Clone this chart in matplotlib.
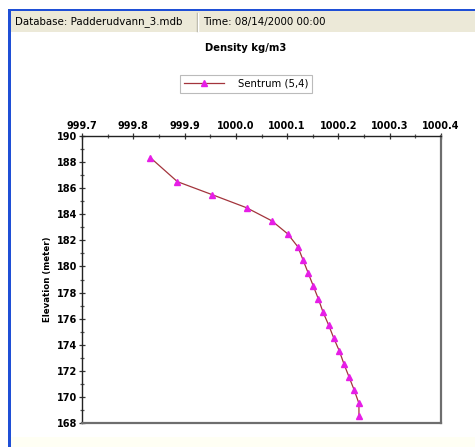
import numpy as np
import matplotlib
matplotlib.use("Agg")
import matplotlib.pyplot as plt
from matplotlib.patches import Rectangle
from matplotlib.ticker import MultipleLocator, FormatStrFormatter

W, H = 475, 447

density = [999.833, 999.886, 999.954, 1000.021, 1000.070, 1000.101, 1000.121,
           1000.131, 1000.141, 1000.151, 1000.161, 1000.170, 1000.181, 1000.191,
           1000.202, 1000.211, 1000.221, 1000.231, 1000.240, 1000.240]
elevation = [188.35, 186.5, 185.5, 184.5, 183.5, 182.5, 181.5, 180.5, 179.5,
             178.5, 177.5, 176.5, 175.5, 174.5, 173.5, 172.5, 171.5, 170.5,
             169.5, 168.5]

series_name = "Sentrum (5,4)"
db_text = "Database: Padderudvann_3.mdb"
time_text = "Time: 08/14/2000 00:00"


def fx(px):
    return px / W


def fy(py):
    return 1 - py / H


fig = plt.figure(figsize=(W / 100, H / 100), dpi=100)
fig.patch.set_facecolor("white")

# window frame and status bar
blue = "#1f4fd6"
fig.add_artist(Rectangle((fx(8), 0), fx(3), fy(9), transform=fig.transFigure,
                         color=blue, lw=0))
fig.add_artist(Rectangle((fx(8), fy(11)), 1, 2 / H, transform=fig.transFigure,
                         color=blue, lw=0))
fig.add_artist(Rectangle((fx(11), fy(32)), 1, (32 - 11) / H, transform=fig.transFigure,
                         color="#ece9d8", lw=0))
fig.add_artist(Rectangle((fx(11), 0), 1, 10 / H, transform=fig.transFigure,
                         color="#fffff4", lw=0))
fig.add_artist(plt.Line2D([fx(197), fx(197)], [fy(13), fy(31)],
                          transform=fig.transFigure, color="#b0ae9f", lw=1))
fig.add_artist(plt.Line2D([fx(198), fx(198)], [fy(13), fy(31)],
                          transform=fig.transFigure, color="white", lw=1))
fig.text(fx(15), fy(21.5), db_text, fontsize=7.4, va="center", ha="left")
fig.text(fx(203), fy(21.5), time_text, fontsize=7.4, va="center", ha="left")

fig.text(fx(246), fy(48), "Density kg/m3", fontsize=7.2, fontweight="bold",
         ha="center", va="center")

ax = fig.add_axes([fx(82), fy(423), fx(441) - fx(82), fy(136) - fy(423)])
line, = ax.plot(density, elevation, color="#a3343c", lw=0.9, marker="^",
                markersize=4.6, markerfacecolor="#e61ee6", markeredgecolor="#e61ee6",
                label=series_name)

ax.set_xlim(999.7, 1000.4)
ax.set_ylim(168, 190)
ax.xaxis.tick_top()
ax.xaxis.set_major_locator(MultipleLocator(0.1))
ax.xaxis.set_minor_locator(MultipleLocator(0.05))
ax.xaxis.set_major_formatter(FormatStrFormatter("%.1f"))
ax.yaxis.set_major_locator(MultipleLocator(2))
ax.yaxis.set_minor_locator(MultipleLocator(1))
ax.tick_params(axis="both", which="major", length=4, width=0.9, direction="inout",
               labelsize=7, pad=1.5, color="#333333")
ax.tick_params(axis="both", which="minor", length=3, width=0.9, direction="inout",
               color="#555555")
for lab in ax.get_xticklabels() + ax.get_yticklabels():
    lab.set_fontweight("bold")

for side in ("left", "top"):
    ax.spines[side].set_color("#222222")
    ax.spines[side].set_linewidth(1.0)
for side in ("right", "bottom"):
    ax.spines[side].set_color("#6e6e6e")
    ax.spines[side].set_linewidth(1.6)

ax.set_ylabel("Elevation (meter)", fontsize=6.2, fontweight="bold", labelpad=3)

leg = fig.legend(handles=[line], loc="center", bbox_to_anchor=(fx(246), fy(84)),
                 fontsize=7.3, frameon=True, fancybox=False, handlelength=4.0,
                 handletextpad=1.3, borderpad=0.35, edgecolor="#aaaaaa")
leg.get_frame().set_linewidth(0.8)

fig.savefig("out.png", dpi=100)
